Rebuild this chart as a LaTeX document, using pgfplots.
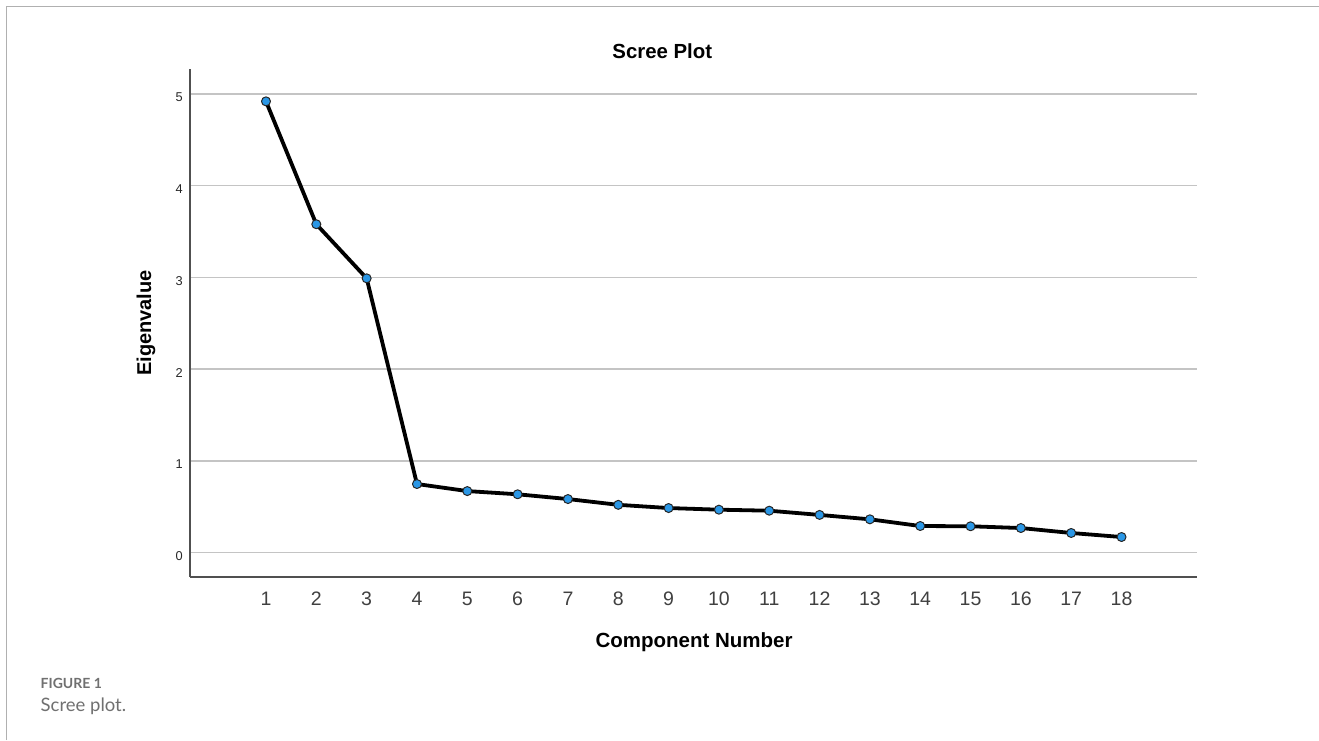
\documentclass[border=0pt]{standalone}
\usepackage{pgfplots}
\pgfplotsset{compat=1.18}
\usepackage{fontspec}
\setmainfont{Liberation Sans}
\newfontfamily\capfont{Lato}
\definecolor{gridc}{HTML}{C4C4C4}
\definecolor{axisc}{HTML}{505050}
\definecolor{markc}{HTML}{2A97E6}
\definecolor{framec}{HTML}{B0B0B0}
\definecolor{capc}{HTML}{707070}
\begin{document}
\begin{tikzpicture}[x=1bp,y=1bp]
\useasboundingbox (0,0) rectangle (1319,740);
\draw[framec, line width=1.4bp] (6.5,0) -- (6.5,733.3) -- (1319,733.3);
\begin{axis}[
  at={(190bp,163bp)}, anchor=south west,
  scale only axis, width=1007bp, height=508bp,
  xmin=-0.51, xmax=19.5, ymin=-0.267, ymax=5.273,
  axis x line*=bottom, axis y line*=left,
  axis line style={axisc, line width=1.3bp, -},
  xtick={1,...,18}, ytick={0,1,2,3,4,5},
  major tick length=0pt,
  ymajorgrids, grid style={gridc, line width=1.5bp},
  /pgf/number format/assume math mode=true,
  xticklabel style={inner sep=0pt, anchor=north, yshift=-14.5bp, font=\fontsize{19.5bp}{22bp}\selectfont, text=black!75},
  yticklabel style={inner sep=0pt, anchor=east, xshift=-7bp, yshift=-3.5bp, font=\fontsize{12.8bp}{15bp}\selectfont, text=black!85},
  title={Scree Plot},
  title style={at={(axis description cs:0.469,1.0225)}, anchor=center, font=\bfseries\fontsize{20.4bp}{24bp}\selectfont},
  xlabel={Component Number},
  xlabel style={at={(axis description cs:0.5005,-0.128)}, anchor=center, font=\bfseries\fontsize{20.5bp}{24bp}\selectfont},
  ylabel={Eigenvalue},
  ylabel style={at={(axis description cs:-0.0437,0.5)}, anchor=center, rotate=0, font=\bfseries\fontsize{20bp}{24bp}\selectfont},
  clip=false,
]
\addplot[black, line width=3.8bp, line join=round,
  mark=*, mark size=4.5bp,
  mark options={fill=markc, draw=black!85, line width=1bp}]
coordinates {
(1,4.92) (2,3.58) (3,2.99) (4,0.747) (5,0.67) (6,0.635) (7,0.583)
(8,0.52) (9,0.485) (10,0.467) (11,0.456) (12,0.41) (13,0.362)
(14,0.289) (15,0.286) (16,0.267) (17,0.213) (18,0.169)
};
\end{axis}
\node[anchor=west, inner sep=0pt, text=capc, font=\capfont\bfseries\fontsize{14bp}{16bp}\selectfont] at (40.5,57) {FIGURE 1};
\node[anchor=west, inner sep=0pt, text=capc, font=\capfont\fontsize{18.5bp}{21bp}\selectfont] at (40.5,34) {Scree plot.};
\end{tikzpicture}
\end{document}
